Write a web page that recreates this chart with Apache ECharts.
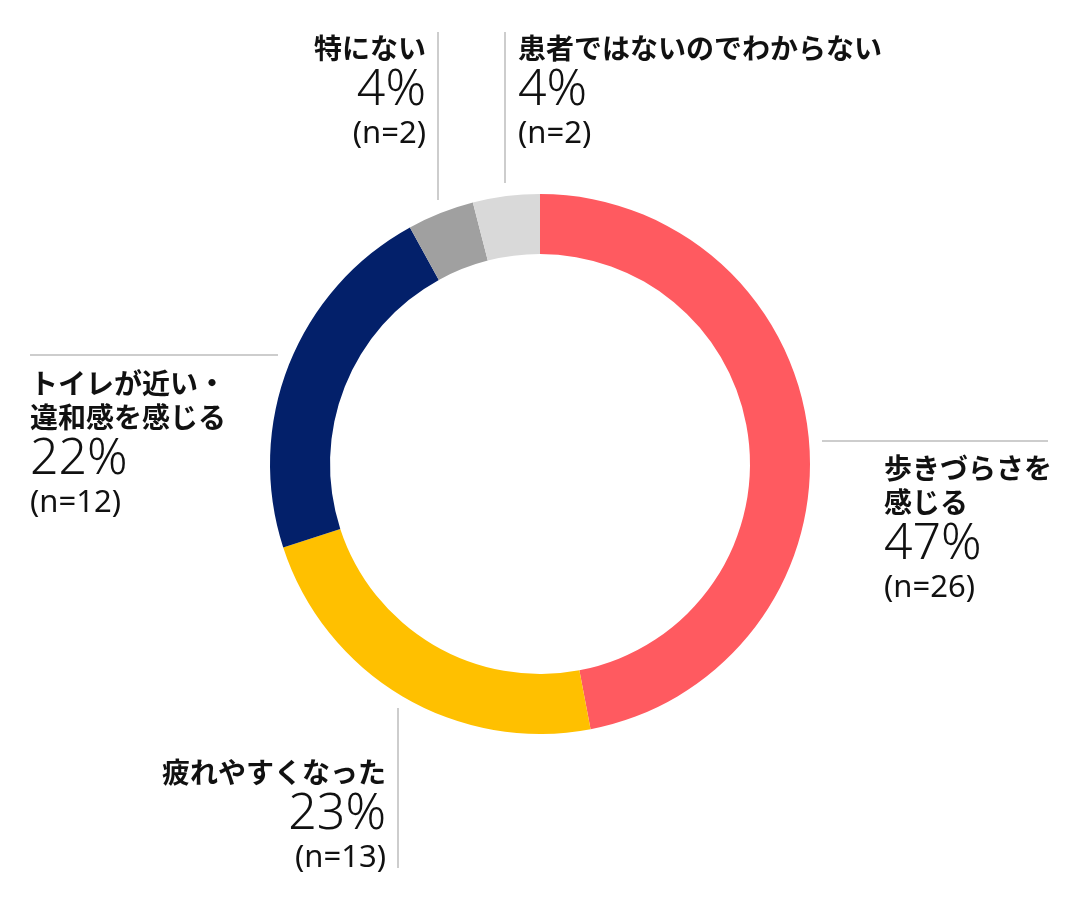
<!DOCTYPE html>
<html>
<head>
<meta charset="utf-8">
<script src="https://cdn.jsdelivr.net/npm/echarts@6/dist/echarts.min.js"></script>
<style>
  html, body { margin: 0; padding: 0; background: #fff; }
  #chart { width: 1080px; height: 906px; }
</style>
</head>
<body>
<div id="chart"></div>
<script>
var categories = ['歩きづらさを\n感じる', '疲れやすくなった', 'トイレが近い・\n違和感を感じる', '特にない', '患者ではないのでわからない'];
var percents = [47, 23, 22, 4, 4];
var counts = [26, 13, 12, 2, 2];
var colors = ['#FF5A60', '#FFC000', '#03206A', '#A0A0A0', '#D9D9D9'];

// label anchor for each slice (top edge of the text block)
var labelPos = [
  { x: 884, y: 451, align: 'left' },
  { x: 386, y: 755, align: 'right' },
  { x: 30, y: 366, align: 'left' },
  { x: 426, y: 31, align: 'right' },
  { x: 518, y: 31, align: 'left' }
];

var chart = echarts.init(document.getElementById('chart'));

function richSet(align) {
  return {
    t: { fontFamily: 'Noto Sans CJK JP', fontWeight: 'bold', fontSize: 28, lineHeight: 34, color: '#111', align: align },
    p: { fontFamily: 'Noto Sans', fontWeight: 300, fontSize: 50, lineHeight: 52, color: '#111', align: align },
    n: { fontFamily: 'Noto Sans', fontWeight: 'normal', fontSize: 31, lineHeight: 34, color: '#111', align: align }
  };
}
var richL = richSet('left');
var richR = richSet('right');

var data = categories.map(function (name, i) {
  return {
    name: name,
    value: percents[i],
    itemStyle: { color: colors[i] },
    label: { rich: labelPos[i].align === 'right' ? richR : richL }
  };
});

var option = {
  backgroundColor: '#fff',
  animation: false,
  series: [{
    type: 'pie',
    center: [540, 464],
    radius: [210, 270],
    startAngle: 90,
    clockwise: true,
    silent: true,
    data: data,
    label: {
      show: true,
      formatter: function (p) {
        var i = p.dataIndex;
        var lines = categories[i].split('\n').map(function (s) { return '{t|' + s + '}'; });
        lines.push('{p|' + percents[i] + '%}');
        lines.push('{n|(n=' + counts[i] + ')}');
        return lines.join('\n');
      }
    },
    labelLine: { show: false },
    labelLayout: function (params) {
      var pos = labelPos[params.dataIndex];
      return { x: pos.x, y: pos.y, align: pos.align, verticalAlign: 'top', hideOverlap: false };
    }
  }],
  graphic: [
    { type: 'line', shape: { x1: 822, y1: 441, x2: 1048, y2: 441 }, style: { stroke: '#BDBDBD', lineWidth: 1.5 } },
    { type: 'line', shape: { x1: 30, y1: 355, x2: 278, y2: 355 }, style: { stroke: '#BDBDBD', lineWidth: 1.5 } },
    { type: 'line', shape: { x1: 398, y1: 708, x2: 398, y2: 868 }, style: { stroke: '#BDBDBD', lineWidth: 1.5 } },
    { type: 'line', shape: { x1: 438, y1: 32, x2: 438, y2: 200 }, style: { stroke: '#BDBDBD', lineWidth: 1.5 } },
    { type: 'line', shape: { x1: 505, y1: 32, x2: 505, y2: 183 }, style: { stroke: '#BDBDBD', lineWidth: 1.5 } }
  ]
};

chart.setOption(option);
</script>
</body>
</html>
